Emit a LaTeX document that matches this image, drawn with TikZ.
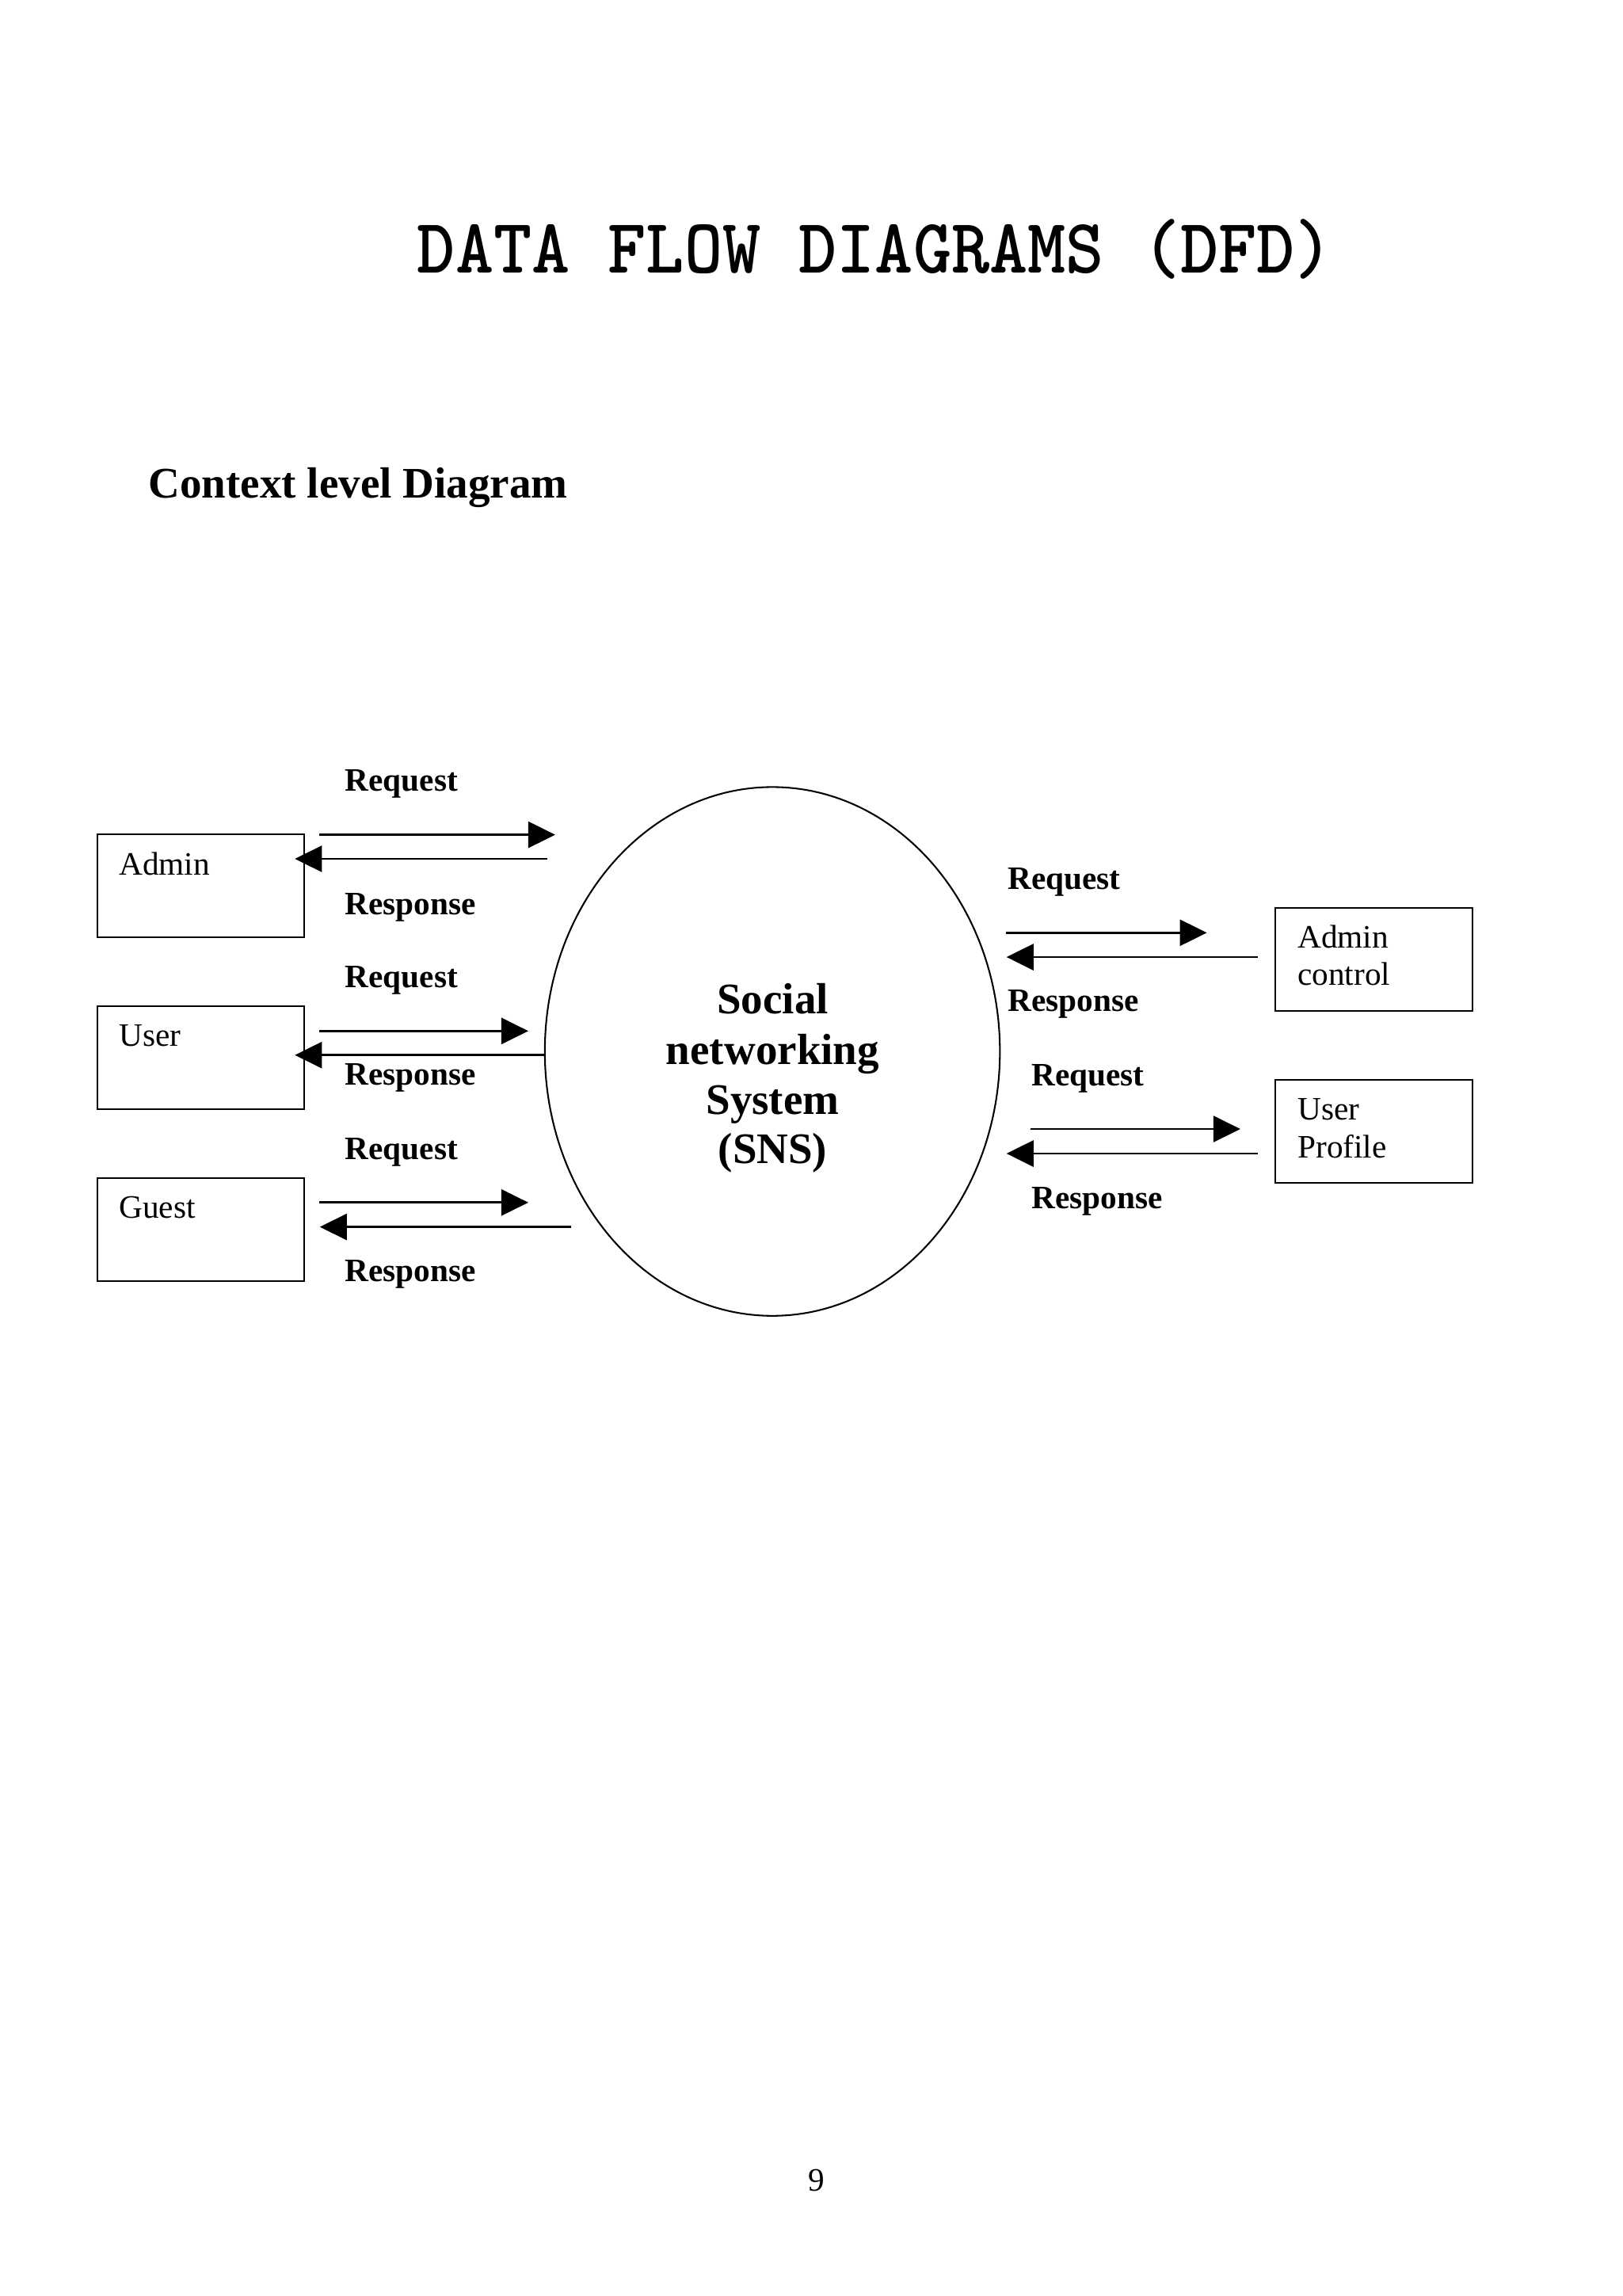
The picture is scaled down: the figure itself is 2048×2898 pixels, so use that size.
\documentclass[tikz,border=0pt]{standalone}
\usepackage{fontspec}
\setmainfont{Liberation Serif}
\newfontfamily\titlefont{lmmonolt10-bold}[Extension=.otf,FakeStretch=0.936]
\usetikzlibrary{arrows.meta,shapes.geometric}
\newcommand\pxu{0.29066pt}
\tikzset{
  ebox/.style={draw, line width=0.6pt, rectangle, inner sep=0pt, anchor=north west},
  lbox/.style={ebox, minimum width=260.7*\pxu, minimum height=130.2*\pxu},
  rbox/.style={ebox, minimum width=248.7*\pxu, minimum height=130.3*\pxu},
  boxtext/.style={font=\fontsize{12}{13.8}\selectfont, anchor=base west, inner sep=0pt},
  flowlabel/.style={font=\fontsize{12}{13.8}\selectfont\bfseries, anchor=base west, inner sep=0pt},
  centretext/.style={font=\fontsize{16}{18.4}\selectfont\bfseries, anchor=base, inner sep=0pt},
  flow/.style={line width=0.8pt, -{Triangle[length=9.9pt, width=9.6pt]}},
}
\begin{document}
\begin{tikzpicture}[x=0.29066pt, y=-0.29066pt]
\useasboundingbox (0,0) rectangle (2048,2898);

% headings
\node[font=\titlefont\fontsize{28.5}{32}\selectfont, anchor=base, inner sep=0pt] (title) at (1105,344) {DATA FLOW DIAGRAMS (DFD)};
\node[font=\fontsize{16}{18.4}\selectfont\bfseries, anchor=base west, inner sep=0pt] (subtitle) at (187,628.3) {Context level Diagram};

% external entities (left)
\node[lbox] (admin) at (122,1051.8) {};
\node[lbox] (user)  at (122,1268.7) {};
\node[lbox] (guest) at (122,1485.7) {};
\node[boxtext] (admint) at (149.7,1104) {Admin};
\node[boxtext] (usert)  at (149.7,1320.5) {User};
\node[boxtext] (guestt) at (149.7,1537.2) {Guest};

% external entities (right)
\node[rbox] (adminctl) at (1609,1145) {};
\node[rbox] (uprofile) at (1609,1361.7) {};
\node[boxtext] (adminctl1) at (1637.6,1196.7) {Admin};
\node[boxtext] (adminctl2) at (1637.6,1243.3) {control};
\node[boxtext] (uprofile1) at (1637.6,1413.3) {User};
\node[boxtext] (uprofile2) at (1637.6,1461) {Profile};

% process
\node[draw, ellipse, line width=0.6pt, minimum width=574.5*\pxu, minimum height=667.4*\pxu, inner sep=0pt] (sns) at (975.1,1327.1) {};
\node[centretext] (sns1) at (975.5,1279) {Social};
\node[centretext] (sns2) at (975.5,1343.8) {networking};
\node[centretext] (sns3) at (975.5,1406.3) {System};
\node[centretext] (sns4) at (975.5,1468) {(SNS)};

% flow end points
\coordinate (aqS) at (402.6,1053.6); \coordinate (aqE) at (701,1053.6);
\coordinate (arS) at (690.7,1084);   \coordinate (arE) at (372.3,1084);
\coordinate (uqS) at (402.6,1301.3); \coordinate (uqE) at (667,1301.3);
\coordinate (urS) at (688.6,1331.7); \coordinate (urE) at (372.3,1331.7);
\coordinate (gqS) at (402.6,1517.8); \coordinate (gqE) at (667,1517.8);
\coordinate (grS) at (721,1548.6);   \coordinate (grE) at (403.8,1548.6);
\coordinate (cqS) at (1270,1177.3);  \coordinate (cqE) at (1523.6,1177.3);
\coordinate (crS) at (1587.8,1208);  \coordinate (crE) at (1270.7,1208);
\coordinate (pqS) at (1300.6,1425);  \coordinate (pqE) at (1565.9,1425);
\coordinate (prS) at (1587.8,1456);  \coordinate (prE) at (1270.7,1456);

\draw[flow] (aqS) -- (aqE);
\draw[flow] (arS) -- (arE);
\draw[flow] (uqS) -- (uqE);
\draw[flow] (urS) -- (urE);
\draw[flow] (gqS) -- (gqE);
\draw[flow] (grS) -- (grE);
\draw[flow] (cqS) -- (cqE);
\draw[flow] (crS) -- (crE);
\draw[flow] (pqS) -- (pqE);
\draw[flow] (prS) -- (prE);

% flow labels (left)
\node[flowlabel] (l1) at (435,998.2) {Request};
\node[flowlabel] (l2) at (435,1154.5) {Response};
\node[flowlabel] (l3) at (435,1246.9) {Request};
\node[flowlabel] (l4) at (435,1369.6) {Response};
\node[flowlabel] (l5) at (435,1463.4) {Request};
\node[flowlabel] (l6) at (435,1617.4) {Response};
% flow labels (right)
\node[flowlabel] (r1) at (1271.6,1122.7) {Request};
\node[flowlabel] (r2) at (1271.6,1276.7) {Response};
\node[flowlabel] (r3) at (1301.8,1370) {Request};
\node[flowlabel] (r4) at (1301.8,1525) {Response};

% page number
\node[font=\fontsize{12}{13.8}\selectfont, anchor=base, inner sep=0pt] (page) at (1030.5,2765) {9};
\end{tikzpicture}
\end{document}
